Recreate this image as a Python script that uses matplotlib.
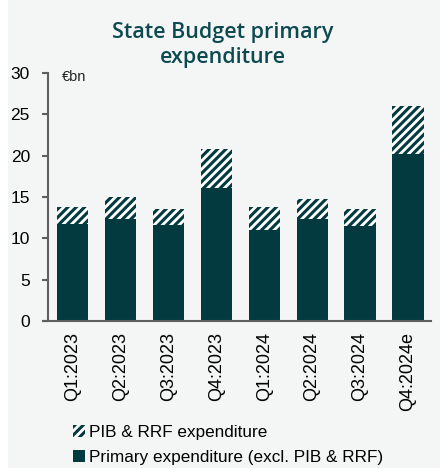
import matplotlib
matplotlib.use("Agg")
import matplotlib.pyplot as plt
from matplotlib.patches import Rectangle, Patch

categories = ["Q1:2023", "Q2:2023", "Q3:2023", "Q4:2023",
              "Q1:2024", "Q2:2024", "Q3:2024", "Q4:2024e"]
primary_excl = [11.7, 12.3, 11.65, 16.1, 11.0, 12.33, 11.5, 20.15]
total = [13.75, 14.95, 13.55, 20.75, 13.8, 14.7, 13.6, 26.05]
pib_rrf = [t - p for t, p in zip(total, primary_excl)]
yticks = [0, 5, 10, 15, 20, 25, 30]

DARK = "#023a40"
BG = "#f4f6f6"
AXIS = "#5f5f5f"

plt.rcParams["hatch.linewidth"] = 2.2
plt.rcParams["font.family"] = ["Liberation Sans", "DejaVu Sans"]

fig = plt.figure(figsize=(4.4, 4.68), dpi=100, facecolor="white")
fig.patches.append(Rectangle((8 / 440, 0), 1, 1, transform=fig.transFigure,
                             facecolor=BG, edgecolor="none", zorder=-10))

ax = fig.add_axes([48 / 440, 1 - 321 / 468, (431 - 48) / 440, (321 - 73) / 468])
ax.set_facecolor("none")

x = list(range(len(categories)))
ax.bar(x, primary_excl, width=0.65, color=DARK, edgecolor="none")
ax.bar(x, pib_rrf, bottom=primary_excl, width=0.65, facecolor="white",
       edgecolor=DARK, hatch="////", linewidth=0)

ax.set_xlim(-0.51, 7.48)
ax.set_ylim(0, 30)
ax.set_yticks(yticks)
ax.set_xticks(x)
ax.set_xticklabels(categories, rotation=90, fontsize=13)
ax.tick_params(axis="x", length=0, pad=8)
ax.tick_params(axis="y", length=4, width=1.5, color=AXIS, labelsize=12.5, pad=9)
for s in ["top", "right"]:
    ax.spines[s].set_visible(False)
ax.spines["left"].set_color(AXIS)
ax.spines["left"].set_linewidth(1.5)
ax.spines["bottom"].set_color(AXIS)
ax.spines["bottom"].set_linewidth(1.5)
ax.spines["bottom"].set_bounds(-0.61, 7.48)

ax.text(0.036, 0.985, "€bn", transform=ax.transAxes, fontsize=10.5,
        ha="left", va="center", color="#222222")

fig.text(0.507, 0.952, "State Budget primary\nexpenditure", ha="center", va="top",
         fontsize=15.5, color="#0d4a50", family=["Open Sans", "DejaVu Sans"],
         weight="semibold", linespacing=1.25)

handles = [Patch(facecolor="white", edgecolor=DARK, hatch="////", linewidth=0),
           Patch(facecolor=DARK, edgecolor="none")]
leg = fig.legend(handles, ["PIB & RRF expenditure",
                           "Primary expenditure (excl. PIB & RRF)"],
                 loc="upper left", bbox_to_anchor=(0.165, 0.092), frameon=False,
                 fontsize=12.3, handlelength=0.7, handleheight=0.7,
                 handletextpad=0.25, labelspacing=0.6, borderpad=0, borderaxespad=0)

fig.savefig("out.png", dpi=100, facecolor=fig.get_facecolor())
